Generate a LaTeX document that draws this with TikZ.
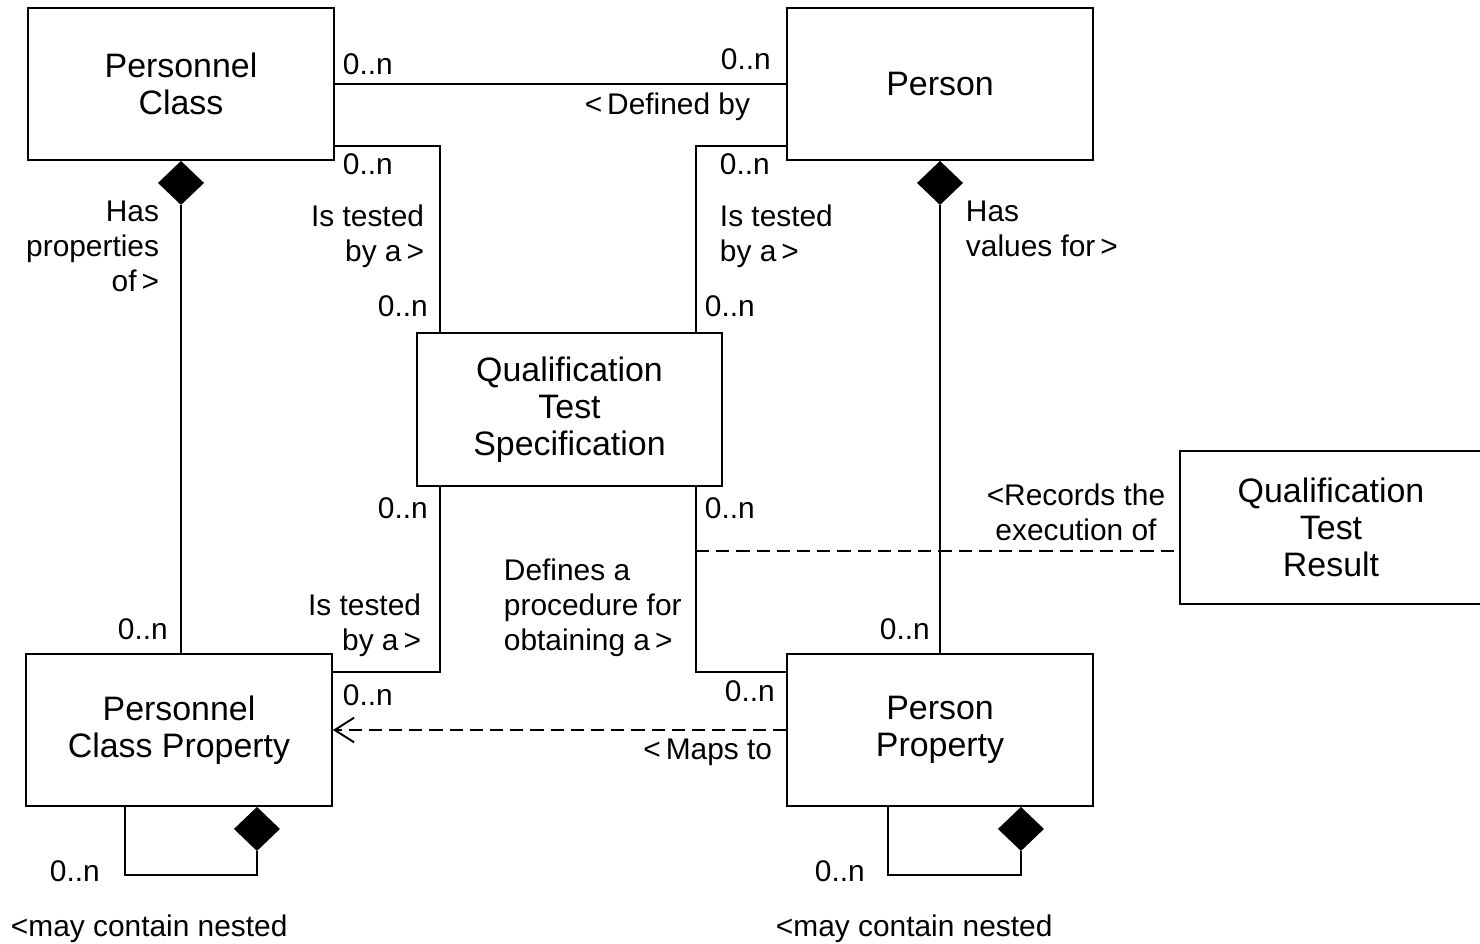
\documentclass[tikz,border=0pt]{standalone}
\usepackage{fontspec}
\setmainfont{Liberation Sans}
\usetikzlibrary{calc,arrows.meta}
\begin{document}
\begin{tikzpicture}[x=0.02cm,y=-0.02cm,
  line width=1.1pt,
  box/.style={draw, rectangle, inner sep=0pt, align=center,
    minimum width=6.12cm, minimum height=3.04cm,
    font=\fontsize{19.3}{21}\selectfont},
  lbl/.style={inner sep=0pt, font=\fontsize{17}{19.8}\selectfont},
  dashline/.style={dash pattern=on 7.5pt off 4pt},
  openhead/.style={-{Straight Barb[length=11pt,width=14pt]}}
]
\useasboundingbox (0,0) rectangle (1480,943);
\clip (0,0) rectangle (1480,943);

% classes
\node[box] (pc) at (181,84) {Personnel\\Class};
\node[box] (person) at (940,84) {Person};
\node[box, minimum width=6.10cm, minimum height=3.06cm] (qts) at (569.5,409.5) {Qualification\\Test\\Specification};
\node[box, minimum width=6.04cm, minimum height=3.06cm] (qtr) at (1331,527.5) {Qualification\\Test\\Result};
\node[box] (pcp) at (179,730) {Personnel\\Class Property};
\node[box] (pp) at (940,730) {Person\\Property};

% ports on the test specification
\coordinate (qtl) at ($(qts.north west)+(24,0)$);
\coordinate (qtrt) at ($(qts.north east)+(-27,0)$);
\coordinate (qbl) at ($(qts.south west)+(24,0)$);
\coordinate (qbr) at ($(qts.south east)+(-27,0)$);
\coordinate (qtrp) at ($(qtr.west)+(0,23.5)$);

% associations
\draw (pc.east) -- (person.west);
\draw ($(pc.south east)+(0,-15)$) -| (qtl);
\draw ($(person.south west)+(0,-15)$) -| (qtrt);
\draw (qbl) |- ($(pcp.north east)+(0,19)$);
\draw (qbr) |- ($(pp.north west)+(0,19)$);
\draw[dashline] (qtrp -| qbr) -- (qtrp);
\draw[dashline, openhead] (pp.west) -- (pcp.east);

% compositions
\fill (pc.south) -- ++(23,22) -- ++(-23,22) -- ++(-23,-22) -- cycle;
\draw ($(pc.south)+(0,44)$) -- (pc.south |- pcp.north);
\fill (person.south) -- ++(23,22) -- ++(-23,22) -- ++(-23,-22) -- cycle;
\draw ($(person.south)+(0,44)$) -- (person.south |- pp.north);

% nested self compositions
\draw ($(pcp.south west)+(100,0)$) |- ($(pcp.south east)+(-76,68)$) -- ++(0,-24);
\fill ($(pcp.south east)+(-76,0)$) -- ++(23,22) -- ++(-23,22) -- ++(-23,-22) -- cycle;
\draw ($(pp.south west)+(102,0)$) |- ($(pp.south east)+(-73,68)$) -- ++(0,-24);
\fill ($(pp.south east)+(-73,0)$) -- ++(23,22) -- ++(-23,22) -- ++(-23,-22) -- cycle;

% role labels and multiplicities (multi-line labels sit on their last baseline)
\node[lbl, anchor=base west] (m1) at (342,74) {0..n};
\node[lbl, anchor=base west] (m2) at (720,69) {0..n};
\node[lbl, anchor=base east] (l1) at (751,114) {<\,Defined by};
\node[lbl, anchor=base west] (m3) at (342,174) {0..n};
\node[lbl, anchor=base west] (m4) at (719,174) {0..n};
\node[lbl, anchor=base east, align=right] (l2) at (425,261) {Is tested\\by a\,>};
\node[lbl, anchor=base west] (m5) at (377,316) {0..n};
\node[lbl, anchor=base west, align=left] (l3) at (719,261) {Is tested\\by a\,>};
\node[lbl, anchor=base west] (m6) at (704,316) {0..n};
\node[lbl, anchor=base east, align=right] (l4) at (160,291) {Has\\properties\\of\,>};
\node[lbl, anchor=base west, align=left] (l5) at (965,256) {Has\\values for\,>};
\node[lbl, anchor=base west] (m7) at (377,518) {0..n};
\node[lbl, anchor=base west] (m8) at (704,518) {0..n};
\node[lbl, anchor=base, align=center] (l6) at (1076,540) {<Records the\\execution of};
\node[lbl, anchor=base west, align=left] (l7) at (503,650) {Defines a\\procedure for\\obtaining a\,>};
\node[lbl, anchor=base east, align=right] (l8) at (422,650) {Is tested\\by a\,>};
\node[lbl, anchor=base west] (m9) at (117,639) {0..n};
\node[lbl, anchor=base west] (m10) at (879,639) {0..n};
\node[lbl, anchor=base west] (m11) at (342,705) {0..n};
\node[lbl, anchor=base west] (m12) at (724,701) {0..n};
\node[lbl, anchor=base east] (l9) at (773,759) {<\,Maps to};
\node[lbl, anchor=base west] (m13) at (49,881) {0..n};
\node[lbl, anchor=base west] (m14) at (814,881) {0..n};
\node[lbl, anchor=base west] (l10) at (10,936) {<may contain nested};
\node[lbl, anchor=base west] (l11) at (775,936) {<may contain nested};
\end{tikzpicture}
\end{document}
